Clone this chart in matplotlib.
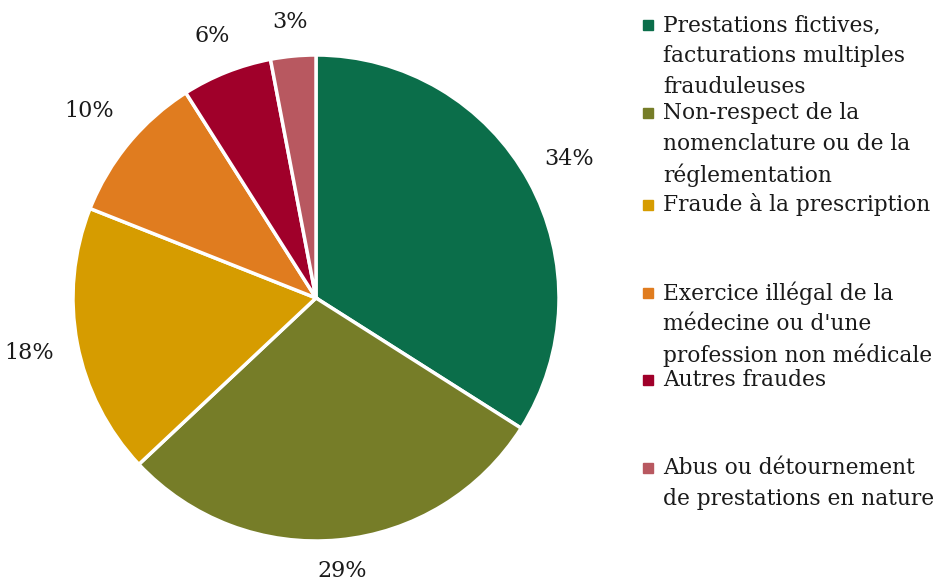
import matplotlib
matplotlib.use("Agg")
import matplotlib.pyplot as plt
import numpy as np

categories = [
    "Prestations fictives,\nfacturations multiples\nfrauduleuses",
    "Non-respect de la\nnomenclature ou de la\nréglementation",
    "Fraude à la prescription",
    "Exercice illégal de la\nmédecine ou d'une\nprofession non médicale",
    "Autres fraudes",
    "Abus ou détournement\nde prestations en nature",
]
values = [34, 29, 18, 10, 6, 3]
colors = ["#0B6E4A", "#767D28", "#D69C00", "#E07C1F", "#A0002A", "#B85860"]
legend_y = [25, 113, 205, 293, 380, 468]  # pixel y of first line of each entry
label_dist = [1.19, 1.13, 1.2, 1.21, 1.16, 1.14]

W, H = 944, 582
fig = plt.figure(figsize=(W / 100, H / 100), dpi=100)
plt.rcParams['font.family'] = ['DejaVu Serif']

cx, cy, R = 316, 298, 243
lim = 1.02
half = R * lim
ax = fig.add_axes([(cx - half) / W, (H - cy - half) / H, 2 * half / W, 2 * half / H])

wedges, texts, autotexts = ax.pie(
    values, colors=colors, startangle=90, counterclock=False,
    autopct=lambda p: f"{p:.0f}%", pctdistance=1.17,
    wedgeprops=dict(edgecolor="white", linewidth=2.5),
    textprops=dict(fontsize=16, color="#1a1a1a"),
)
for w, t, d in zip(wedges, autotexts, label_dist):
    ang = np.deg2rad((w.theta1 + w.theta2) / 2)
    t.set_position((d * np.cos(ang), d * np.sin(ang)))
ax.set_xlim(-lim, lim)
ax.set_ylim(-lim, lim)
ax.set_aspect("equal")
ax.axis("off")

fs = 15.7
line_h = 31
for lab, col, y in zip(categories, colors, legend_y):
    fig.patches.append(plt.Rectangle(((648 - 5) / W, (H - y - 5) / H), 10 / W, 10 / H,
                                     transform=fig.transFigure, color=col))
    lines = lab.split("\n")
    for i, ln in enumerate(lines):
        fig.text(663 / W, (H - y - i * line_h) / H, ln, fontsize=fs, va="center",
                 ha="left", color="#1a1a1a")

fig.savefig("out.png", dpi=100)
